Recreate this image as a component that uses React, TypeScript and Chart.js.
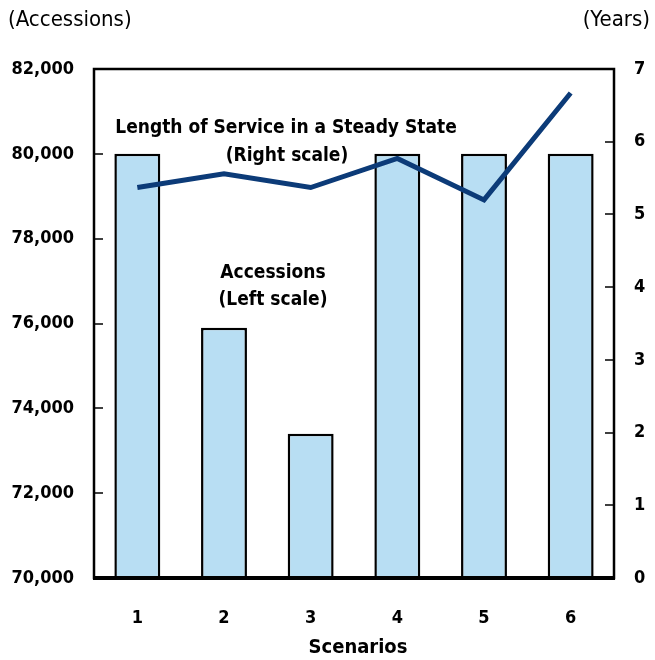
import React, { useEffect, useRef } from "react";
import { Chart, registerables } from "chart.js";

Chart.register(...registerables);

const scenarios = ["1", "2", "3", "4", "5", "6"];
const accessions = [80000, 75900, 73400, 80000, 80000, 80000];
const lengthOfService = [5.37, 5.56, 5.37, 5.77, 5.2, 6.67];
const leftTicks = [70000, 72000, 74000, 76000, 78000, 80000, 82000];
const rightTicks = [0, 1, 2, 3, 4, 5, 6, 7];

const FONT = "'Liberation Sans Narrow', 'DejaVu Sans Condensed', 'Liberation Sans', sans-serif";

const overlay = {
  id: "overlay",
  afterDraw(chart: any) {
    const ctx = chart.ctx;
    const a = chart.chartArea;
    const yL = chart.scales.y;
    const yR = chart.scales.y1;
    ctx.save();
    ctx.strokeStyle = "#000";
    ctx.lineWidth = 1.5;
    leftTicks.forEach((v) => {
      const y = Math.round(yL.getPixelForValue(v));
      ctx.beginPath();
      ctx.moveTo(a.left, y);
      ctx.lineTo(a.left + 9, y);
      ctx.stroke();
    });
    rightTicks.forEach((v) => {
      const y = Math.round(yR.getPixelForValue(v));
      ctx.beginPath();
      ctx.moveTo(a.right, y);
      ctx.lineTo(a.right - 9, y);
      ctx.stroke();
    });
    ctx.lineWidth = 2.5;
    ctx.strokeRect(a.left, a.top, a.right - a.left, a.bottom - a.top);
    ctx.lineWidth = 4;
    ctx.beginPath();
    ctx.moveTo(a.left - 1, a.bottom);
    ctx.lineTo(a.right + 1, a.bottom);
    ctx.stroke();
    ctx.fillStyle = "#000";
    ctx.textBaseline = "middle";
    ctx.font = `22px ${FONT}`;
    ctx.textAlign = "left";
    ctx.fillText("(Accessions)", 8, 20);
    ctx.textAlign = "right";
    ctx.fillText("(Years)", 650, 20);
    ctx.textAlign = "center";
    ctx.font = `bold 20px ${FONT}`;
    ctx.fillText("Scenarios", 358, 648);
    ctx.font = `bold 19px ${FONT}`;
    ctx.fillText("Length of Service in a Steady State", 286, 128);
    ctx.fillText("(Right scale)", 287, 156);
    ctx.fillText("Accessions", 273, 273);
    ctx.fillText("(Left scale)", 273, 300);
    ctx.restore();
  },
};

export default function App() {
  const ref = useRef<HTMLCanvasElement>(null);
  useEffect(() => {
    document.body.style.margin = "0";
    const chart = new Chart(ref.current as HTMLCanvasElement, {
      type: "bar",
      data: {
        labels: scenarios,
        datasets: [
          {
            type: "line",
            data: lengthOfService,
            yAxisID: "y1",
            borderColor: "#0c3b78",
            borderWidth: 5,
            pointRadius: 0,
            tension: 0,
            order: 0,
          } as any,
          {
            type: "bar",
            data: accessions,
            yAxisID: "y",
            backgroundColor: "#b8def3",
            borderColor: "#000",
            borderWidth: 2.5,
            borderSkipped: false,
            barPercentage: 0.53,
            categoryPercentage: 1,
            order: 1,
          },
        ],
      },
      options: {
        responsive: false,
        animation: false,
        layout: { padding: { top: 69, left: 0, right: 0, bottom: 0 } },
        plugins: { legend: { display: false }, tooltip: { enabled: false } },
        scales: {
          x: {
            grid: { display: false, drawTicks: false },
            border: { display: false },
            ticks: { color: "#000", font: { family: FONT, size: 18, weight: "bold" }, padding: 30 },
            afterFit: (s: any) => { s.height = 82; },
          },
          y: {
            position: "left",
            min: 70000,
            max: 82000,
            grid: { display: false, drawTicks: false },
            border: { display: false },
            ticks: {
              stepSize: 2000,
              color: "#000",
              font: { family: FONT, size: 18, weight: "bold" },
              padding: 20,
              callback: (v: any) => Number(v).toLocaleString("en-US"),
            },
            afterFit: (s: any) => { s.width = 94; },
          },
          y1: {
            position: "right",
            min: 0,
            max: 7,
            grid: { display: false, drawTicks: false },
            border: { display: false },
            ticks: {
              stepSize: 1,
              color: "#000",
              font: { family: FONT, size: 18, weight: "bold" },
              padding: 20,
            },
            afterFit: (s: any) => { s.width = 41; },
          },
        },
      },
      plugins: [overlay],
    });
    return () => chart.destroy();
  }, []);
  return <canvas ref={ref} width={655} height={660} style={{ display: "block" }} />;
}
